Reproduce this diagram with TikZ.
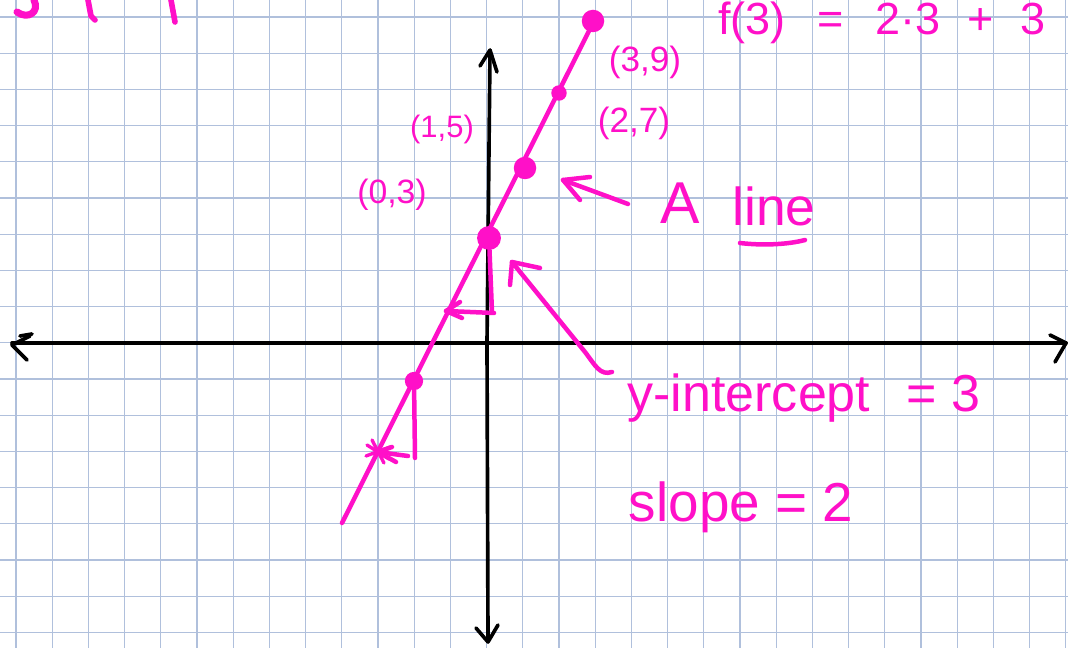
\documentclass[tikz,border=0pt]{standalone}
\usepackage{fontspec}
\setmainfont{Liberation Sans}
\definecolor{pen}{RGB}{255,16,200}
\definecolor{gridc}{RGB}{176,192,220}
\tikzset{
  pstroke/.style={draw=pen, line width=3.2pt, line cap=round, line join=round},
  thinstroke/.style={draw=pen, line width=2.4pt, line cap=round, line join=round},
  axis/.style={draw=black, line width=2.6pt, line cap=round, line join=round},
  dotp/.style={circle, fill=pen, inner sep=0pt, minimum size=#1},
  lbl/.style={text=pen, inner sep=0pt, anchor=base},
}
\begin{document}
\begin{tikzpicture}[x=0.025cm, y=-0.025cm]
\useasboundingbox (0,0) rectangle (1068,648);
\clip (0,0) rectangle (1068,648);
\fill[white] (0,0) rectangle (1068,648);
% grid
\foreach \k in {0,...,29} {
  \draw[gridc, line width=0.9pt] ({16+36.2*\k},0) -- ({16+36.2*\k},648);
}
\foreach \k in {0,...,17} {
  \draw[gridc, line width=0.9pt] (0,{17+36.2*\k}) -- (1068,{17+36.2*\k});
}
% axes
\coordinate (xl) at (12,343);
\coordinate (xr) at (1066,343);
\coordinate (yt) at (490,52);
\coordinate (yb) at (488,640);
\draw[axis] (xl) -- (xr);
\draw[axis] (yb) -- (487,343) -- (yt);
\draw[axis] (30,336) -- (12,345) -- (27,360);
\draw[axis] (20,336) -- (32,334);
\draw[axis] (1050,335) -- (1066,343) -- (1055,362);
\draw[axis] (480,66) -- (490,50) -- (497,72);
\draw[axis] (476,628) -- (488,642) -- (498,625);
% points on the line
\coordinate (p0) at (342,523);
\coordinate (p9) at (596,17);
\node[dotp=16pt] (d39) at (593,21) {};
\node[dotp=11pt] (d27) at (559,93) {};
\node[dotp=16pt] (d15) at (525,168) {};
\node[dotp=17pt] (d03) at (489,238) {};
\node[dotp=13pt] (dm2) at (414,381) {};
\coordinate (s3) at (378,452);
\draw[pstroke] (p0) -- (p9);
% slope triangles
\coordinate (c1) at (492,312);
\coordinate (c2) at (446,311);
\draw[pstroke] (d03) -- (c1);
\draw[pstroke] (494,313) -- (c2);
\draw[pstroke] (460,302) -- (c2) -- (462,318);
\coordinate (c3) at (415,458);
\draw[pstroke] (dm2) -- (c3);
\draw[pstroke] (408,456) -- (s3);
\draw[pstroke] (392,447) -- (s3) -- (396,462);
\draw[thinstroke] (366,456) -- (390,447);
\draw[thinstroke] (372,440) -- (384,463);
\draw[thinstroke] (367,445) -- (389,459);
% labels of points
\node[lbl, font=\fontsize{25}{28}\selectfont] (l39) at (645,72) {(3,9)};
\node[lbl, font=\fontsize{25}{28}\selectfont] (l27) at (634,133) {(2,7)};
\node[lbl, font=\fontsize{22}{26}\selectfont] (l15) at (442,138) {(1,5)};
\node[lbl, font=\fontsize{24}{28}\selectfont] (l03) at (392,204) {(0,3)};
% A line
\node[lbl, font=\fontsize{42}{48}\selectfont] (tA) at (680,224) {A};
\node[lbl, font=\fontsize{38}{44}\selectfont] (tline) at (774,226) {line};
\coordinate (ul1) at (740,243);
\coordinate (ul2) at (805,240);
\draw[pstroke] (ul1) .. controls (765,246) and (790,244) .. (ul2);
\coordinate (aA) at (628,204);
\coordinate (hA) at (563,180);
\draw[pstroke] (aA) -- (hA);
\draw[pstroke] (590,177) -- (hA) -- (580,200);
% y-intercept arrow
\coordinate (ay) at (612,372);
\coordinate (hy) at (512,262);
\draw[pstroke] (ay) .. controls (600,376) and (595,365) .. (585,352) -- (hy);
\draw[pstroke] (540,268) -- (hy) -- (510,285);
% texts
\node[lbl, font=\fontsize{37}{42}\selectfont] (tyi) at (804,412) {y-intercept\hspace{0.7em}= 3};
\node[lbl, font=\fontsize{39}{44}\selectfont] (tsl) at (741,522) {slope = 2};
\node[lbl, font=\fontsize{32}{38}\selectfont] (tf) at (882,35) {f(3)\hspace{0.7em}=\hspace{0.7em}2·3\hspace{0.6em}+\hspace{0.6em}3};
% partial strokes top-left
\draw[pstroke, line width=5pt] (17,12) .. controls (28,20) and (40,12) .. (34,0);
\draw[pstroke, line width=4pt] (88,0) -- (91,16) -- (95,20);
\draw[pstroke, line width=4pt] (171,0) -- (175,22);
\end{tikzpicture}
\end{document}
